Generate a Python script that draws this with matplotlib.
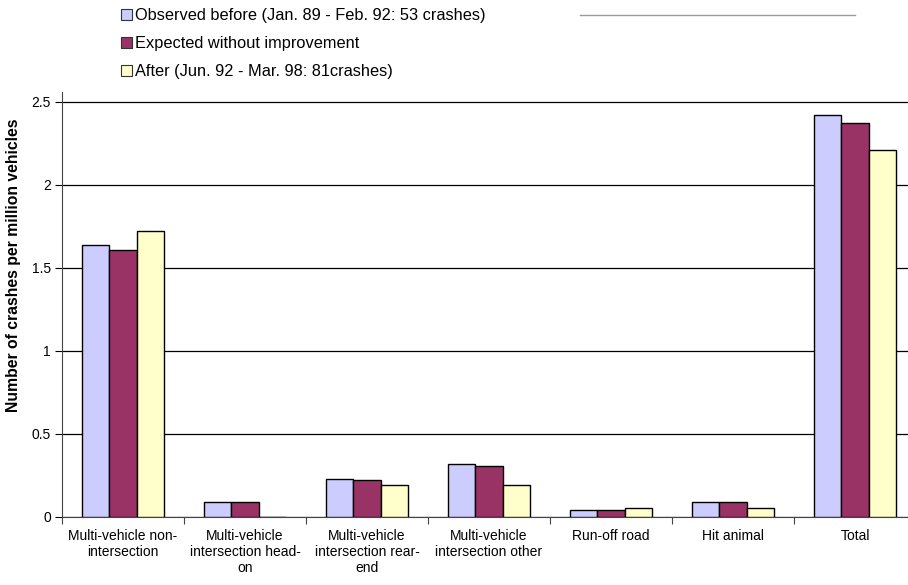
import matplotlib.pyplot as plt
import numpy as np
from matplotlib.patches import Patch
from matplotlib.lines import Line2D

plt.rcParams['font.family'] = ['Liberation Sans', 'DejaVu Sans']

# crash categories and rates per million vehicles
categories = ["Multi-vehicle non-\nintersection",
              "Multi-vehicle\nintersection head-\non",
              "Multi-vehicle\nintersection rear-\nend",
              "Multi-vehicle\nintersection other",
              "Run-off road",
              "Hit animal",
              "Total"]
observed = [1.64, 0.09, 0.227, 0.32, 0.042, 0.09, 2.42]
expected = [1.61, 0.09, 0.22, 0.31, 0.042, 0.089, 2.373]
after = [1.72, 0.0, 0.19, 0.19, 0.052, 0.052, 2.21]

labels = ["Observed before (Jan. 89 - Feb. 92: 53 crashes)",
          "Expected without improvement",
          "After (Jun. 92 - Mar. 98: 81crashes)"]
colors = ["#CCCCFF", "#993366", "#FFFFCC"]

W, H = 908, 585
fig = plt.figure(figsize=(W / 100, H / 100), dpi=100)
# plot area runs a little past the right edge of the figure
x0, x1, y0, y1 = 62, 916, 517, 92
ax = fig.add_axes([x0 / W, 1 - y0 / H, (x1 - x0) / W, (y0 - y1) / H])

x = np.arange(len(categories))
bw = 0.224
for i, (vals, c) in enumerate(zip([observed, expected, after], colors)):
    ax.bar(x + (i - 1) * bw, vals, bw, color=c, edgecolor='black', linewidth=1.0, zorder=3)

ax.set_xlim(-0.5, len(categories) - 0.5)
ax.set_ylim(0, 2.56)
ax.set_yticks([0, 0.5, 1, 1.5, 2, 2.5])
ax.set_yticklabels(["0", "0.5", "1", "1.5", "2", "2.5"], fontsize=10)
ax.yaxis.grid(True, color='black', linewidth=0.9, zorder=0)
ax.set_xticks(np.arange(len(categories) + 1) - 0.5)
ax.set_xticklabels([])
ax.set_xticks(x, minor=True)
ax.set_xticklabels(categories, minor=True, fontsize=10, linespacing=1.15)
ax.tick_params(axis='x', which='minor', length=0, pad=9)
ax.tick_params(axis='x', which='major', length=5, direction='out', width=0.8, color='#444444')
ax.tick_params(axis='y', length=5, direction='out', width=0.8, pad=3)
for s in ['top', 'right']:
    ax.spines[s].set_visible(False)
ax.spines['left'].set_color('#444444')
ax.spines['bottom'].set_color('#444444')

fig.text(14 / W, 1 - 265 / H, "Number of crashes per million vehicles", rotation=90,
         ha='center', va='center', fontsize=11.3, fontweight='bold')

handles = [Patch(facecolor=c, edgecolor='#333333', linewidth=0.8) for c in colors]
fig.legend(handles, labels, loc='upper left', bbox_to_anchor=(121 / W, 1 - 8 / H),
           frameon=False, fontsize=11.8, handlelength=0.68, handleheight=0.68,
           handletextpad=0.18, labelspacing=0.8, borderaxespad=0, borderpad=0)

# thin gray rule at the top right
fig.add_artist(Line2D([580 / W, 855 / W], [1 - 15 / H, 1 - 15 / H], color='#999999', linewidth=1.0))

fig.savefig("out.png", dpi=100)
